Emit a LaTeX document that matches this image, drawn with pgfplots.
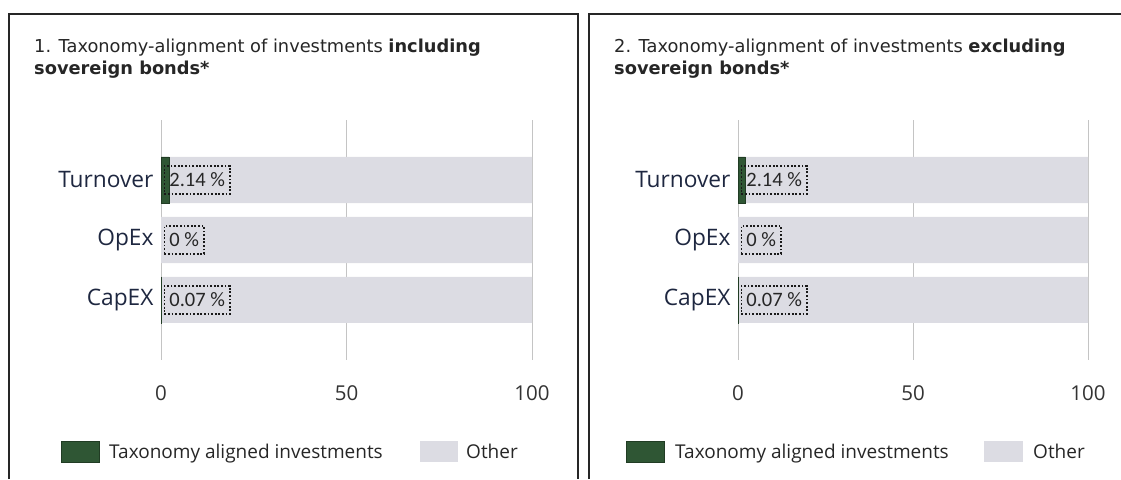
\documentclass[border=0pt]{standalone}
\usepackage{pgfplots}
\pgfplotsset{compat=1.18}
\usepackage{fontspec}
\setmainfont{Open Sans}
\newfontfamily\titlefont{DejaVu Sans}
\newfontfamily\lblfont{Carlito}
\definecolor{tax}{HTML}{2F5634}
\definecolor{oth}{HTML}{DCDCE3}
\definecolor{navy}{HTML}{1E2740}
\definecolor{gridc}{HTML}{C4C4C4}
\pgfplotsset{
  panel/.style={
    scale only axis, anchor=south west,
    xmin=0, xmax=100, ymin=-1, ymax=3, height=240pt,
    xtick={0,50,100}, ytick={0,1,2}, yticklabels={CapEX,OpEx,Turnover},
    axis line style={draw=none}, major tick length=0pt,
    /pgf/number format/assume math mode=true,
    xticklabel style={font=\fontsize{20.5}{24}\selectfont, text=black!80, yshift=-22pt},
    yticklabel style={font=\fontsize{22.7}{26}\selectfont, text=navy, xshift=-4pt},
  },
  bars/.style={panel, xbar stacked, bar width=46pt, xmajorgrids,
    grid style={line width=1pt, color=gridc}},
  labels/.style={panel, hide axis,
    nodes near coords, point meta=explicit symbolic,
    every node near coord/.append style={anchor=west, xshift=2.5pt, font=\lblfont\fontsize{20.5}{22}\selectfont, text=black!85, draw=black!90, line width=1.8pt, dash pattern=on 1.8pt off 1.8pt, inner xsep=5pt, inner ysep=3pt, minimum height=28pt}},
}
\begin{document}
\begin{tikzpicture}[x=1pt,y=1pt]
\path[use as bounding box] (0,0) rectangle (1121,479);
% panel frames
\draw[line width=2pt, black!85] (9,0) -- (9,465) -- (578,465) -- (578,0);
\draw[line width=2pt, black!85] (589,0) -- (589,465) -- (1121,465);
% titles
\node[anchor=north west, align=left, inner sep=0, font=\titlefont\fontsize{17.8}{22}\selectfont, text=black!85] at (34,440) {1. Taxonomy-alignment of investments \textbf{including}\\\textbf{sovereign bonds*}};
\node[anchor=north west, align=left, inner sep=0, font=\titlefont\fontsize{17.8}{22}\selectfont, text=black!85] at (614,440) {2. Taxonomy-alignment of investments \textbf{excluding}\\\textbf{sovereign bonds*}};

% left panel
\begin{axis}[bars, at={(161pt,119pt)}, width=371pt]
\addplot[fill=tax, draw=tax!70!black] coordinates {(0.07,0) (0,1) (2.14,2)};
\addplot[fill=oth, draw=none] coordinates {(99.93,0) (100,1) (97.86,2)};
\end{axis}
\begin{axis}[labels, at={(161pt,119pt)}, width=371pt]
\addplot[draw=none, mark=none] coordinates {(0,2) [2.14 \%] (0,1) [0 \%] (0,0) [0.07 \%]};
\end{axis}

% right panel
\begin{axis}[bars, at={(738pt,119pt)}, width=350pt]
\addplot[fill=tax, draw=tax!70!black] coordinates {(0.07,0) (0,1) (2.14,2)};
\addplot[fill=oth, draw=none] coordinates {(99.93,0) (100,1) (97.86,2)};
\end{axis}
\begin{axis}[labels, at={(738pt,119pt)}, width=350pt]
\addplot[draw=none, mark=none] coordinates {(0,2) [2.14 \%] (0,1) [0 \%] (0,0) [0.07 \%]};
\end{axis}

% legends
\begin{scope}[font=\fontsize{19}{23}\selectfont]
\fill[tax] (61,17) rectangle (99,38); \draw[tax!70!black, line width=0.6pt] (61,17) rectangle (99,38);
\node[anchor=base west, inner sep=0, text=black!85] at (109,20.5) {Taxonomy aligned investments};
\fill[oth] (420,17) rectangle (458,38);
\node[anchor=base west, inner sep=0, text=black!85] at (466,20.5) {Other};
\fill[tax] (626,17) rectangle (664,38); \draw[tax!70!black, line width=0.6pt] (626,17) rectangle (664,38);
\node[anchor=base west, inner sep=0, text=black!85] at (675,20.5) {Taxonomy aligned investments};
\fill[oth] (984,17) rectangle (1023,38);
\node[anchor=base west, inner sep=0, text=black!85] at (1033,20.5) {Other};
\end{scope}
\end{tikzpicture}
\end{document}
